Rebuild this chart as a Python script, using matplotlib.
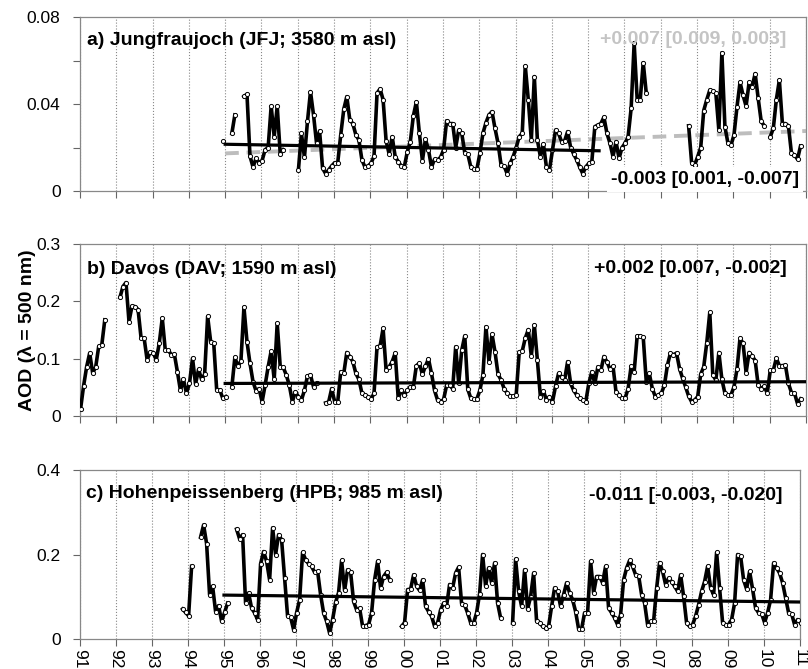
import numpy as np
import matplotlib
matplotlib.use("Agg")
import matplotlib.pyplot as plt

plt.rcParams['font.family'] = ['Liberation Sans', 'DejaVu Sans']

# =========================================
# Monthly AOD (500 nm), month index k = months since Jan 1991
# None = no data
# =========================================

jfj_start = 47
jfj_aod = [
    0.023, None, None, 0.0265, 0.035, None, None,
    0.0435, 0.0445, 0.016, 0.011, 0.015, 0.013, 0.014, 0.019, 0.020, 0.039,
    0.025, 0.039, 0.017, 0.019, None, None, None, None,
    # 1997 - 1999
    0.0095, 0.0265, 0.0155, 0.032, 0.0457, 0.035, 0.022, 0.0276, 0.0104, 0.008,
    0.0097, 0.0115, 0.013, 0.013, 0.0258, 0.0376, 0.0434, 0.0327, 0.031, 0.0258,
    0.0235, 0.0143, 0.011, 0.0115, 0.0127, 0.016, 0.045, 0.047, 0.042, 0.023,
    0.017, 0.025, 0.0158, 0.0135, 0.0115, 0.011,
    # 2000 - 2006
    0.018, 0.0227, 0.0345, 0.041, 0.0265, 0.014, 0.0238, 0.019, 0.011, 0.0146,
    0.0143, 0.0155, 0.019, 0.0323, 0.031, 0.031, 0.020, 0.028, 0.0265, 0.0176,
    0.017, 0.011, 0.010, 0.010, 0.0173, 0.0265, 0.0314, 0.035, 0.0365, 0.0288,
    0.022, 0.012, 0.0115, 0.008, 0.0127, 0.0158, 0.020, 0.025, 0.0265, 0.0575,
    0.042, 0.0235, 0.0526, 0.0235, 0.0158, 0.0216, 0.011, 0.0097, 0.019, 0.028,
    0.0265, 0.0227, 0.023, 0.0273, 0.020, 0.017, 0.0143, 0.011, 0.008, 0.011,
    0.0127, 0.0135, 0.0296, 0.0303, 0.031, 0.034, 0.0265, 0.022, 0.0158, 0.0227,
    0.015, 0.020, 0.022, 0.025, 0.038, 0.068, 0.042, 0.042, 0.059, 0.045,
    None, None, None, None, None, None, None, None, None, None, None, None, None,
    # 2007 - 2010
    0.030, 0.013, 0.012, 0.0158, 0.020, 0.037, 0.042, 0.0464, 0.046, 0.045,
    0.028, 0.0636, 0.0296, 0.022, 0.021, 0.0258, 0.0388, 0.050, 0.044, 0.039,
    0.050, 0.048, 0.054, 0.0426, 0.032, 0.030, None,
    0.025, 0.0288, 0.042, 0.051, 0.031, 0.031, 0.030, 0.0173, 0.0166, 0.0146,
    0.0207,
]

dav_start = 0
dav_aod = [
    0.013, 0.053, 0.086, 0.11, 0.075, 0.086, 0.122, 0.124, 0.168,
    None, None, None, None,
    0.207, 0.226, 0.233, 0.165, 0.192, 0.191, 0.186, 0.136, 0.136, 0.098,
    0.112, 0.111, 0.098, 0.127, 0.171, 0.115, 0.115, 0.107, 0.108, 0.0775,
    0.045, 0.064, 0.040, 0.057, 0.101, 0.056, 0.0815, 0.064, 0.073, 0.174,
    0.130, 0.128, 0.045, 0.046, 0.031, 0.034, None,
    0.051, 0.1025, 0.087, 0.096, 0.19, 0.13, 0.092, 0.06, 0.044, 0.048,
    0.025, 0.054, 0.086, 0.1136, 0.064, 0.162, 0.086, 0.085, 0.0717, 0.054,
    0.025, 0.0425, 0.034, 0.028, 0.045, 0.070, 0.0717, 0.051, 0.057, None, None,
    0.023, 0.0245, 0.048, 0.025, 0.025, 0.0775, 0.0745, 0.111, 0.104, 0.095,
    0.0745, 0.064, 0.040, 0.037, 0.034, 0.029, 0.040, 0.121, 0.122, 0.153,
    0.080, 0.086, 0.095, 0.110, 0.031, 0.045, 0.037,
    # 2000 -
    0.045, 0.051, 0.051, 0.088, 0.092, 0.073, 0.087, 0.1, 0.0745, 0.045,
    0.028, 0.025, 0.029, 0.054, 0.054, 0.048, 0.121, 0.057, 0.115, 0.14,
    0.047, 0.031, 0.030, 0.030, 0.045, 0.0717, 0.156, 0.095, 0.143, 0.112,
    0.073, 0.063, 0.048, 0.040, 0.035, 0.035, 0.037, 0.112, 0.1136, 0.136,
    0.151, 0.105, 0.159, 0.098, 0.034, 0.044, 0.028, 0.034, 0.025, 0.052,
    0.0745, 0.069, 0.063, 0.095, 0.057, 0.045, 0.037, 0.031, 0.028, 0.025,
    0.057, 0.0775, 0.057, 0.086, 0.080, 0.104, 0.095, 0.0815, 0.087, 0.0425,
    0.037, 0.031, 0.031, 0.048, 0.087, 0.0775, 0.14, 0.14, 0.1375, 0.06,
    0.0745, 0.048, 0.034, 0.037, 0.040, 0.054, 0.089, 0.11, 0.107, 0.11,
    0.083, 0.066, 0.051, 0.035, 0.025, 0.028, 0.034, 0.073, 0.086, 0.128,
    0.181, 0.0717, 0.063, 0.111, 0.064, 0.040, 0.037, 0.037, 0.051, 0.082,
    0.136, 0.127, 0.076, 0.111, 0.105, 0.097, 0.054, 0.048, 0.052, 0.040,
    0.080, 0.080, 0.101, 0.088, 0.088, 0.089, 0.057, 0.041, 0.040, 0.022,
    0.030,
]

hpb_start = 34
hpb_aod = [
    0.071, 0.063, 0.055, 0.172, None, None,
    0.241, 0.27, 0.226, 0.105, 0.125, 0.065, 0.079, 0.042, 0.063, 0.085,
    None, None,
    0.26, 0.237, 0.247, 0.085, 0.109, 0.073, 0.062, 0.046, 0.178, 0.207,
    0.184, 0.14, 0.263, 0.20, 0.247, 0.235, 0.144, 0.054, 0.052, 0.022,
    0.062, 0.093, 0.205, 0.188, 0.178, 0.172, 0.158, 0.160, 0.105, 0.062,
    0.042, 0.014, 0.046, 0.087, 0.11, 0.186, 0.115, 0.164, 0.158, 0.089,
    0.069, 0.073, 0.030, 0.032, 0.034, 0.062, 0.14, 0.184, 0.12, 0.148,
    0.158, 0.14, None, None, None,
    # 1999 end - 2002
    0.030, 0.039, 0.117, 0.118, 0.152, 0.125, 0.115, 0.14, 0.077, 0.065,
    0.054, 0.030, 0.038, 0.069, 0.085, 0.079, 0.129, 0.121, 0.156, 0.170,
    0.084, 0.081, 0.062, 0.039, 0.038, 0.062, 0.107, 0.20, 0.125, 0.168,
    0.133, 0.18, 0.085, 0.050, None, None, None,
    # 2003 -
    0.038, 0.189, 0.113, 0.077, 0.164, 0.071, 0.10, 0.156, 0.042, 0.039,
    0.030, 0.026, 0.030, 0.077, 0.121, 0.113, 0.077, 0.105, 0.133, 0.109,
    0.093, 0.065, 0.024, 0.024, 0.062, 0.062, 0.184, 0.109, 0.148, 0.148,
    0.133, 0.172, 0.073, 0.062, 0.050, 0.034, 0.058, 0.14, 0.168, 0.186,
    0.172, 0.152, 0.150, 0.105, 0.085, 0.034, 0.042, 0.042, 0.120, 0.181,
    0.160, 0.129, 0.144, 0.136, 0.125, 0.113, 0.152, 0.101, 0.038, 0.030,
    0.034, 0.054, 0.081, 0.113, 0.136, 0.172, 0.121, 0.105, 0.205, 0.120,
    0.039, 0.034, 0.034, 0.046, 0.085, 0.20, 0.196, 0.140, 0.118, 0.160,
    0.118, 0.073, 0.062, 0.060, 0.039, 0.062, 0.093, 0.18, 0.168, 0.156,
    0.133, 0.097, 0.062, 0.060, 0.034, 0.046, 0.038,
]

# Linear trends: [start year, end year], [start value, end value]
jfj_trend_years = [1995.0, 2005.3]
jfj_trend_vals = [0.0215, 0.0185]
jfj_trend2_years = [1995.0, 2011.0]
jfj_trend2_vals = [0.0173, 0.0276]
dav_trend_years = [1995.0, 2011.0]
dav_trend_vals = [0.057, 0.060]
hpb_trend_years = [1995.0, 2011.0]
hpb_trend_vals = [0.104, 0.0876]

titles = ['a) Jungfraujoch (JFJ; 3580 m asl)',
          'b) Davos (DAV; 1590 m asl)',
          'c) Hohenpeissenberg (HPB; 985 m asl)']
trend_texts = ['-0.003 [0.001, -0.007]',
               '+0.002 [0.007, -0.002]',
               '-0.011 [-0.003, -0.020]']
trend2_text = '+0.007 [0.009, 0.003]'

years = np.arange(1991, 2012)
year_labels = ['%02d' % (y % 100) for y in years]


def month_axis(start, values):
    v = np.array([np.nan if x is None else x for x in values], dtype=float)
    t = 1991 + (start + np.arange(len(v)) + 0.2) / 12.0
    return t, v


fig = plt.figure(figsize=(8.08, 6.69), dpi=100)

left = 0.099
axa = fig.add_axes([left, 0.7145, 0.8985, 0.260])
axb = fig.add_axes([left, 0.378, 0.8985, 0.257])
axc = fig.add_axes([left, 0.0448, 0.8911, 0.2526])

series = [(jfj_start, jfj_aod), (dav_start, dav_aod), (hpb_start, hpb_aod)]
trends = [(jfj_trend_years, jfj_trend_vals), (dav_trend_years, dav_trend_vals),
          (hpb_trend_years, hpb_trend_vals)]
ylims = [0.08, 0.3, 0.4]
yticks = [[0, 0.02, 0.04, 0.06, 0.08], [0, 0.1, 0.2, 0.3], [0, 0.2, 0.4]]
ylabels = [['0', '', '0.04', '', '0.08'], ['0', '0.1', '0.2', '0.3'],
           ['0', '0.2', '0.4']]
title_y = [0.868, 0.855, 0.862]
trend_y = [0.065, 0.86, 0.852]

for i, ax in enumerate([axa, axb, axc]):
    t, v = month_axis(*series[i])

    # vertical year grid
    for y in years:
        ax.axvline(y, color='#888888', lw=0.8, ls=':', zorder=1)

    if i == 0:
        ax.plot(jfj_trend2_years, jfj_trend2_vals, color='#bdbdbd', lw=2.8,
                ls=(0, (3.5, 2)), zorder=2)

    ax.plot(t, v, color='black', lw=2.6, marker='o', ms=3.0, mfc='white',
            mec='black', mew=0.7, zorder=3)
    ax.plot(trends[i][0], trends[i][1], color='black', lw=2.3, zorder=4)

    ax.set_xlim(1991, 2011)
    ax.set_ylim(0, ylims[i])
    ax.set_xticks(years)
    ax.set_yticks(yticks[i])
    ax.set_yticklabels(ylabels[i], fontsize=12.5)
    if i == 2:
        ax.set_xticklabels(year_labels, rotation=270, fontsize=12.5)
    else:
        ax.set_xticklabels([])
    ax.tick_params(axis='both', direction='out', length=5, width=0.8,
                   color='#666666', pad=2)
    ax.tick_params(axis='y', pad=9)
    for s in ax.spines.values():
        s.set_color('#888888')
        s.set_linewidth(0.9)

    ax.text(0.009, title_y[i], titles[i], transform=ax.transAxes,
            fontsize=14, fontweight='bold', ha='left', va='center', zorder=6)

    if i == 0:
        ax.text(0.99, trend_y[i], trend_texts[i], transform=ax.transAxes,
                fontsize=14, fontweight='bold', ha='right', va='center',
                zorder=6, clip_on=False,
                bbox=dict(facecolor='white', edgecolor='none', pad=3))
        ax.text(0.973, 0.87, trend2_text, transform=ax.transAxes,
                fontsize=14, fontweight='bold', ha='right', va='center',
                color='#c4c4c4', zorder=6)
    else:
        ax.text(0.973 if i == 1 else 0.975, trend_y[i], trend_texts[i],
                transform=ax.transAxes, fontsize=14, fontweight='bold',
                ha='right', va='center', zorder=6)

axb.set_ylabel('AOD (\u03bb = 500 nm)', fontsize=14, fontweight='bold')
axb.yaxis.set_label_coords(-0.06, 0.5)

fig.savefig('out.png', dpi=100)
